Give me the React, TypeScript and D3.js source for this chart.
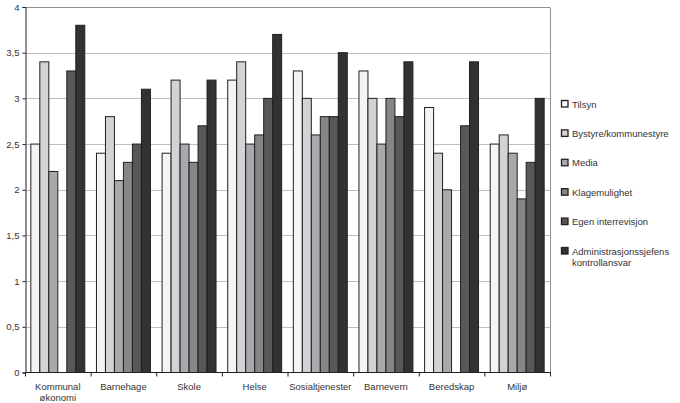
import { useEffect, useRef } from 'react';
import * as d3 from 'd3';

const categories = ['Kommunal\nøkonomi', 'Barnehage', 'Skole', 'Helse', 'Sosialtjenester', 'Barnevern', 'Beredskap', 'Miljø'];
const seriesNames = ['Tilsyn', 'Bystyre/kommunestyre', 'Media', 'Klagemulighet', 'Egen interrevisjon', 'Administrasjonssjefens\nkontrollansvar'];
const seriesColors = ['#f4f4f4', '#d2d3d5', '#a8a9ac', '#868686', '#58585a', '#333132'];

// one row per series, one value per category (null = no bar)
const tilsyn = [2.5, 2.4, 2.4, 3.2, 3.3, 3.3, 2.9, 2.5];
const bystyre = [3.4, 2.8, 3.2, 3.4, 3.0, 3.0, 2.4, 2.6];
const media = [2.2, 2.1, 2.5, 2.5, 2.6, 2.5, 2.0, 2.4];
const klagemulighet = [null, 2.3, 2.3, 2.6, 2.8, 3.0, null, 1.9];
const egenRevisjon = [3.3, 2.5, 2.7, 3.0, 2.8, 2.8, 2.7, 2.3];
const adminKontroll = [3.8, 3.1, 3.2, 3.7, 3.5, 3.4, 3.4, 3.0];
const yTicks = [0, 0.5, 1, 1.5, 2, 2.5, 3, 3.5, 4];

const series = [tilsyn, bystyre, media, klagemulighet, egenRevisjon, adminKontroll];

export default function App() {
    const ref = useRef<SVGSVGElement>(null);

    useEffect(() => {
        document.body.style.margin = '0';
        if (!ref.current) return;
        const svg = d3.select(ref.current);
        svg.selectAll('*').remove();

        const width = 680;
        const height = 403;
        const left = 25, right = 550, top = 7, bottom = 372.5;
        const font = 'Liberation Sans, Arial, sans-serif';

        const x = d3.scaleBand<number>()
            .domain(d3.range(categories.length))
            .range([left, right]);
        const inner = d3.scaleBand<number>()
            .domain(d3.range(series.length))
            .range([0, x.bandwidth()])
            .paddingOuter(0.65)
            .paddingInner(0);
        const y = d3.scaleLinear().domain([0, 4]).range([bottom, top]);

        svg.attr('width', width).attr('height', height);

        // gridlines
        svg.append('g')
            .selectAll('line')
            .data(yTicks.filter(t => t > 0))
            .join('line')
            .attr('x1', left)
            .attr('x2', right)
            .attr('y1', d => Math.round(y(d)) + 0.5)
            .attr('y2', d => Math.round(y(d)) + 0.5)
            .attr('stroke', d => (d === 4 ? '#8e9297' : '#bcc0c6'))
            .attr('stroke-width', 1);

        // right border
        svg.append('line')
            .attr('x1', right + 0.5).attr('x2', right + 0.5)
            .attr('y1', Math.round(y(4)) + 0.5).attr('y2', bottom)
            .attr('stroke', '#8e9297');

        // bars
        series.forEach((vals, si) => {
            svg.append('g')
                .selectAll('rect')
                .data(vals.map((v, ci) => ({ v, ci })).filter(d => d.v != null))
                .join('rect')
                .attr('x', d => (x(d.ci) ?? 0) + (inner(si) ?? 0))
                .attr('y', d => y(d.v as number))
                .attr('width', inner.bandwidth())
                .attr('height', d => bottom - y(d.v as number))
                .attr('fill', seriesColors[si])
                .attr('stroke', '#231f20')
                .attr('stroke-width', 1);
        });

        // y axis
        const yAxis = svg.append('g')
            .attr('transform', `translate(${left + 0.5},0)`)
            .call(d3.axisLeft(y).tickValues(yTicks).tickSize(3)
                .tickFormat(d => String(d).replace('.', ',')));
        yAxis.select('.domain').attr('stroke', '#231f20');
        yAxis.selectAll('.tick line').attr('stroke', '#231f20');
        yAxis.selectAll('text')
            .attr('font-family', font)
            .attr('font-size', 9.5)
            .attr('fill', '#333')
            .attr('x', -6);

        // x axis
        const xAxis = svg.append('g').attr('transform', `translate(0,${bottom})`);
        xAxis.append('line')
            .attr('x1', left).attr('x2', right + 1)
            .attr('stroke', '#231f20');
        xAxis.selectAll('line.tk')
            .data(d3.range(categories.length + 1))
            .join('line')
            .attr('class', 'tk')
            .attr('x1', d => left + d * x.step() + 0.5)
            .attr('x2', d => left + d * x.step() + 0.5)
            .attr('y1', 0).attr('y2', 4)
            .attr('stroke', '#231f20');
        categories.forEach((c, i) => {
            const t = xAxis.append('text')
                .attr('x', (x(i) ?? 0) + x.bandwidth() / 2)
                .attr('y', 17)
                .attr('text-anchor', 'middle')
                .attr('font-family', font)
                .attr('font-size', 9.5)
                .attr('fill', '#333');
            c.split('\n').forEach((line, li) => {
                t.append('tspan')
                    .attr('x', (x(i) ?? 0) + x.bandwidth() / 2)
                    .attr('dy', li === 0 ? 0 : 11)
                    .text(line);
            });
        });

        // legend
        const legendY = d3.scalePoint<number>()
            .domain(d3.range(seriesNames.length))
            .range([104, 251]);
        const legend = svg.append('g');
        seriesNames.forEach((name, i) => {
            const ly = legendY(i) ?? 0;
            legend.append('rect')
                .attr('x', 561.5).attr('y', ly - 3.5)
                .attr('width', 6.5).attr('height', 6.5)
                .attr('fill', seriesColors[i])
                .attr('stroke', '#231f20')
                .attr('stroke-width', 1.3);
            const t = legend.append('text')
                .attr('x', 572)
                .attr('y', ly + 3.5)
                .attr('font-family', font)
                .attr('font-size', 9.5)
                .attr('fill', '#333');
            name.split('\n').forEach((line, li) => {
                t.append('tspan')
                    .attr('x', 572)
                    .attr('dy', li === 0 ? 0 : 11)
                    .text(line);
            });
        });
    }, []);

    return <svg ref={ref} style={{ display: 'block' }} />;
}
